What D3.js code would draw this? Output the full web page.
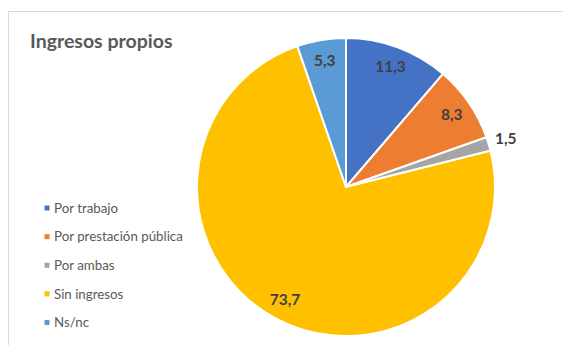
<!DOCTYPE html>
<html>
<head>
<meta charset="utf-8">
<script src="https://cdn.jsdelivr.net/npm/d3@7"></script>
<style>
  html, body { margin: 0; padding: 0; background: #fff; }
  svg { display: block; }
  text { font-family: Lato, "Open Sans", sans-serif; }
</style>
</head>
<body>
<svg id="chart" width="563" height="345"></svg>
<script>
// Ingresos propios — distribution (%)
const categories = ["Por trabajo", "Por prestación pública", "Por ambas", "Sin ingresos", "Ns/nc"];
const values = [11.3, 8.3, 1.5, 73.7, 5.3];
const labels = ["11,3", "8,3", "1,5", "73,7", "5,3"];
const colors = ["#4472C4", "#ED7D31", "#A5A5A5", "#FFC000", "#5B9BD5"];
const title = "Ingresos propios";

const W = 563, H = 345;
const svg = d3.select("#chart");

// chart area frame (runs past right and bottom edges)
svg.append("rect")
  .attr("x", 8.5).attr("y", 11.5)
  .attr("width", W + 10).attr("height", H + 10)
  .attr("fill", "#fff")
  .attr("stroke", "#D9D9D9").attr("stroke-width", 1);

// title
svg.append("text")
  .attr("x", 30).attr("y", 47.5)
  .attr("font-size", 19.5).attr("font-weight", 700)
  .attr("fill", "#595959")
  .text(title);

// pie
const cx = 346, cy = 187, R = 149;
const data = categories.map((c, i) => ({ cat: c, value: values[i], label: labels[i], color: colors[i] }));
const pie = d3.pie().value(d => d.value).sort(null);
const arcs = pie(data);
const arc = d3.arc().innerRadius(0).outerRadius(R);
const inLabelArc = d3.arc().innerRadius(R * 0.86).outerRadius(R * 0.86);
const outLabelArc = d3.arc().innerRadius(R * 1.12).outerRadius(R * 1.12);

const g = svg.append("g").attr("transform", `translate(${cx},${cy})`);
g.selectAll("path.slice")
  .data(arcs)
  .join("path")
  .attr("class", "slice")
  .attr("d", arc)
  .attr("fill", d => d.data.color)
  .attr("stroke", "#fff")
  .attr("stroke-width", 2)
  .attr("stroke-linejoin", "round");

// data labels: small slices get their label outside the pie
g.selectAll("text.lbl")
  .data(arcs)
  .join("text")
  .attr("class", "lbl")
  .attr("transform", d => {
    const small = (d.endAngle - d.startAngle) < 0.15;
    const p = (small ? outLabelArc : inLabelArc).centroid(d);
    return `translate(${p[0]},${p[1]})`;
  })
  .attr("text-anchor", "middle")
  .attr("dy", "0.35em")
  .attr("font-size", 15.5)
  .attr("font-weight", 700)
  .attr("fill", "#404040")
  .text(d => d.data.label);

// legend
const legend = svg.append("g");
const rowY = d3.scalePoint().domain(categories).range([208, 322.5]);
const items = legend.selectAll("g.item")
  .data(data)
  .join("g")
  .attr("class", "item")
  .attr("transform", d => `translate(0,${rowY(d.cat)})`);
items.append("rect")
  .attr("x", 44.5).attr("y", -2.5)
  .attr("width", 5).attr("height", 5)
  .attr("fill", d => d.color);
items.append("text")
  .attr("x", 54).attr("dy", "0.35em")
  .attr("font-size", 13.3)
  .attr("fill", "#595959")
  .text(d => d.cat);
</script>
</body>
</html>
